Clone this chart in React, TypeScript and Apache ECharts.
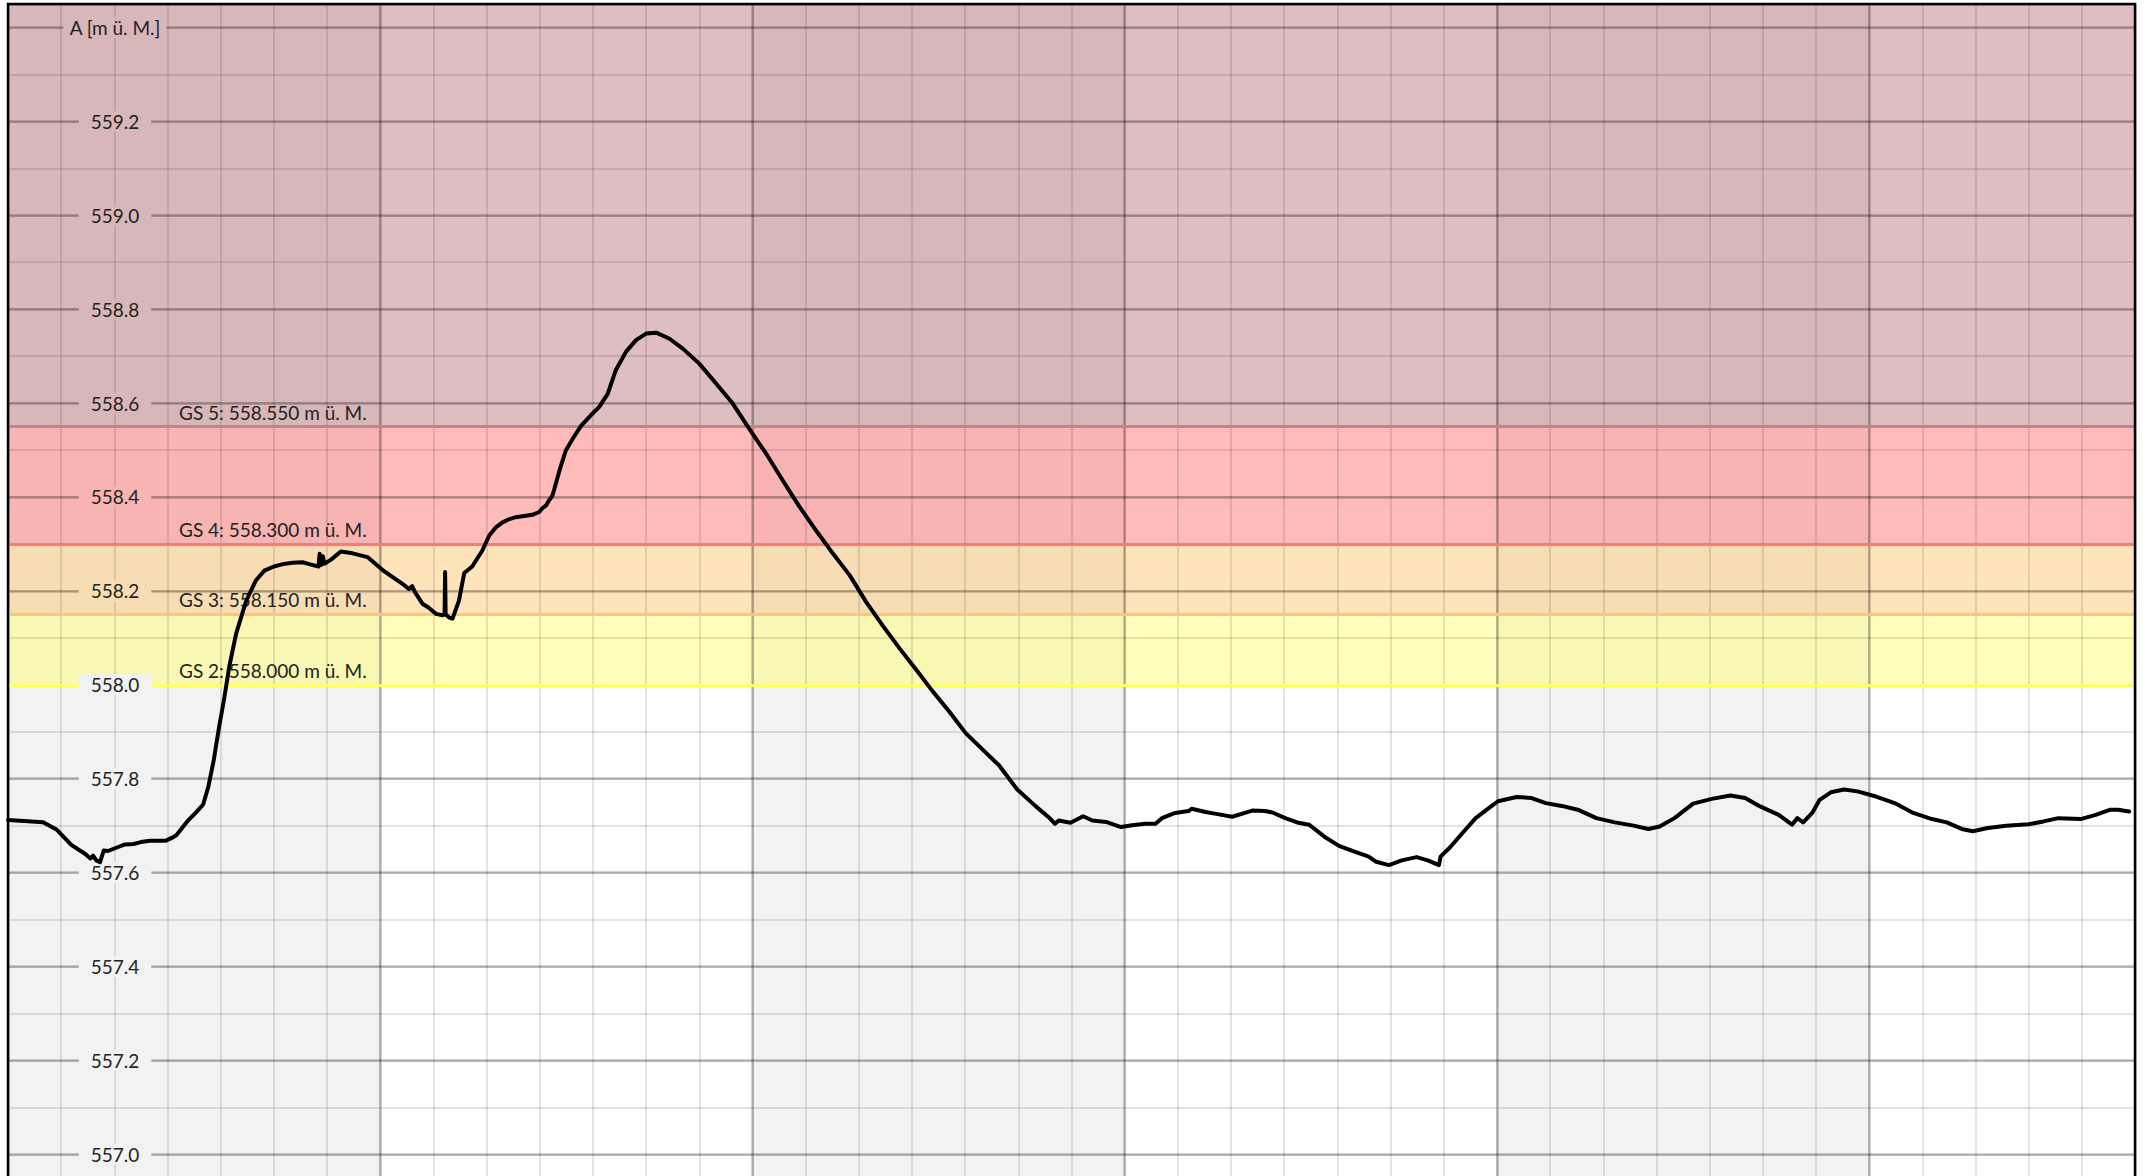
import React, { useEffect, useRef } from "react";
import * as echarts from "echarts";

// time axis in days (0..40), water level in m ü. M.
const days = [
  0.0, 0.3, 0.66, 0.92, 1.19, 1.46, 1.55, 1.6, 1.66, 1.73, 1.8, 1.88, 2.06, 2.2, 2.36, 2.5, 2.67, 2.97, 3.1, 3.17,
  3.37, 3.55, 3.67, 3.77, 3.87, 3.97, 4.07, 4.16, 4.29, 4.48, 4.66, 4.82, 5.0, 5.17, 5.35, 5.54, 5.7, 5.84, 5.86, 5.89,
  5.92, 5.95, 6.07, 6.26, 6.48, 6.76, 7.04, 7.2, 7.42, 7.54, 7.6, 7.65, 7.8, 7.9, 8.05, 8.17, 8.21, 8.22, 8.23, 8.3,
  8.36, 8.48, 8.58, 8.73, 8.92, 9.05, 9.18, 9.3, 9.43, 9.55, 9.74, 9.86, 9.99, 10.05, 10.12, 10.17, 10.24, 10.37, 10.49, 10.62,
  10.78, 10.96, 11.12, 11.28, 11.43, 11.62, 11.81, 12.0, 12.19, 12.44, 12.69, 13.0, 13.32, 13.63, 13.94, 14.26, 14.57, 14.88, 15.2, 15.51,
  15.83, 16.14, 16.45, 16.77, 17.08, 17.39, 17.7, 18.01, 18.33, 18.64, 18.98, 19.33, 19.57, 19.69, 19.76, 19.98, 20.22, 20.39, 20.65, 20.93,
  21.14, 21.39, 21.58, 21.7, 21.95, 22.2, 22.26, 22.52, 22.72, 23.02, 23.4, 23.64, 23.78, 24.02, 24.27, 24.47, 24.75, 25.03, 25.31, 25.59,
  25.73, 25.97, 26.21, 26.49, 26.7, 26.91, 26.94, 27.12, 27.32, 27.6, 27.81, 28.02, 28.37, 28.64, 28.92, 29.22, 29.52, 29.87, 30.22, 30.57,
  30.85, 31.06, 31.34, 31.69, 32.04, 32.39, 32.67, 32.95, 33.3, 33.55, 33.65, 33.76, 33.93, 34.07, 34.28, 34.53, 34.78, 35.13, 35.48, 35.83,
  36.18, 36.46, 36.74, 36.95, 37.23, 37.58, 38.0, 38.28, 38.56, 38.98, 39.26, 39.54, 39.68, 39.89,
];
const levels = [
  557.712, 557.71, 557.707, 557.691, 557.659, 557.639, 557.63, 557.636, 557.626, 557.622, 557.647, 557.646, 557.654, 557.66, 557.661, 557.665, 557.668, 557.668, 557.675, 557.68,
  557.709, 557.73, 557.745, 557.784, 557.84, 557.91, 557.974, 558.038, 558.109, 558.179, 558.222, 558.243, 558.252, 558.257, 558.26, 558.261, 558.256, 558.252, 558.279, 558.255,
  558.274, 558.258, 558.266, 558.284, 558.28, 558.272, 558.245, 558.232, 558.215, 558.204, 558.21, 558.198, 558.172, 558.165, 558.151, 558.148, 558.15, 558.24, 558.15, 558.143,
  558.141, 558.179, 558.238, 558.252, 558.286, 558.318, 558.336, 558.346, 558.353, 558.357, 558.36, 558.362, 558.368, 558.376, 558.382, 558.392, 558.403, 558.456, 558.499, 558.524,
  558.552, 558.574, 558.592, 558.62, 558.67, 558.709, 558.734, 558.748, 558.75, 558.737, 558.716, 558.684, 558.641, 558.599, 558.545, 558.492, 558.435, 558.38, 558.328, 558.28,
  558.233, 558.176, 558.126, 558.077, 558.032, 557.986, 557.943, 557.897, 557.862, 557.828, 557.777, 557.741, 557.718, 557.704, 557.711, 557.706, 557.72, 557.711, 557.708, 557.697,
  557.701, 557.704, 557.704, 557.716, 557.727, 557.731, 557.736, 557.729, 557.725, 557.719, 557.732, 557.731, 557.728, 557.716, 557.706, 557.702, 557.677, 557.657, 557.645, 557.634,
  557.623, 557.616, 557.626, 557.633, 557.626, 557.616, 557.634, 557.654, 557.68, 557.716, 557.734, 557.752, 557.761, 557.759, 557.748, 557.742, 557.734, 557.716, 557.707, 557.7,
  557.693, 557.698, 557.716, 557.747, 557.757, 557.764, 557.759, 557.741, 557.723, 557.702, 557.716, 557.707, 557.727, 557.755, 557.771, 557.777, 557.773, 557.762, 557.748, 557.727,
  557.714, 557.707, 557.693, 557.688, 557.695, 557.7, 557.703, 557.709, 557.716, 557.714, 557.723, 557.734, 557.734, 557.73,
];

// warning thresholds (Gefahrenstufen)
const thresholdNames = ["GS 2", "GS 3", "GS 4", "GS 5"];
const thresholdValues = [558.0, 558.15, 558.3, 558.55];
const unitText = "m ü. M.";
const axisTitle = "A [m ü. M.]";
const titleTick = 559.4;

// axis ranges
const xMin = 0;
const xMax = 40;
const weekLength = 7;
const shadedWeekStarts = [0, 14, 28];
const yMin = 556.8;
const yMax = 559.45;

// styles: zone colours as [r, g, b] drawn with zoneAlpha over the week bands
const zoneRgb = [
  [255, 255, 104],
  [255, 193, 102],
  [255, 102, 102],
  [184, 111, 117],
];
const zoneAlpha = 0.45;
const lineColors = ["#ffff6a", "#ffc474", "#ff7878", "#c0848a"];
const bandGray = 242;
const FONT = "Lato";

function over(rgb: number[], base: number) {
  const c = rgb.map((v) => Math.round(zoneAlpha * v + (1 - zoneAlpha) * base));
  return `rgb(${c[0]},${c[1]},${c[2]})`;
}

function zoneIndex(v: number) {
  let idx = -1;
  for (let i = 0; i < thresholdValues.length; i++) {
    if (v > thresholdValues[i] + 1e-9) idx = i;
  }
  return idx;
}

export default function App() {
  const ref = useRef<HTMLDivElement>(null);

  useEffect(() => {
    if (!ref.current) return;
    const chart = echarts.init(ref.current, undefined, { renderer: "svg" });

    const labelStyle = (bg: string, pad: number[]) => ({
      backgroundColor: bg,
      padding: pad,
      fontFamily: FONT,
      fontSize: 19,
      color: "#222",
      lineHeight: 20,
    });
    const grayBg = `rgb(${bandGray},${bandGray},${bandGray})`;
    const rich: Record<string, any> = {
      w: labelStyle(grayBg, [1, 12]),
      t: labelStyle(over(zoneRgb[3], bandGray), [1, 6]),
    };
    zoneRgb.forEach((c, i) => {
      rich["z" + i] = labelStyle(over(c, bandGray), [1, 12]);
    });

    const zoneAreas = thresholdValues.map((lo, i) => [
      {
        yAxis: lo,
        itemStyle: { color: `rgba(${zoneRgb[i][0]},${zoneRgb[i][1]},${zoneRgb[i][2]},${zoneAlpha})` },
      },
      { yAxis: i + 1 < thresholdValues.length ? thresholdValues[i + 1] : yMax },
    ]);
    const bandAreas = shadedWeekStarts.map((s) => [{ xAxis: s }, { xAxis: s + weekLength }]);

    const hiddenAxisParts = {
      axisLine: { show: false },
      axisTick: { show: false },
      axisLabel: { show: false },
    };

    const option: any = {
      animation: false,
      grid: {
        left: 8,
        right: 9,
        top: 4,
        bottom: 11.8,
        show: true,
        backgroundColor: "transparent",
        borderColor: "#000",
        borderWidth: 2.5,
        z: 10,
      },
      xAxis: [
        {
          type: "value",
          min: xMin,
          max: xMax,
          interval: 1,
          z: 3,
          ...hiddenAxisParts,
          splitLine: { show: true, lineStyle: { color: "rgba(0,0,0,0.14)", width: 1.5 } },
        },
        {
          type: "value",
          min: xMin,
          max: xMax,
          interval: weekLength,
          z: 3,
          ...hiddenAxisParts,
          splitLine: { show: true, lineStyle: { color: "rgba(0,0,0,0.24)", width: 2.5 } },
        },
      ],
      yAxis: [
        {
          type: "value",
          position: "right",
          min: yMin,
          max: yMax,
          interval: 0.1,
          z: 4,
          ...hiddenAxisParts,
          splitLine: { show: true, lineStyle: { color: "rgba(0,0,0,0.14)", width: 1.5 } },
        },
        {
          type: "value",
          position: "left",
          min: yMin,
          max: yMax,
          interval: 0.2,
          z: 4,
          ...hiddenAxisParts,
          splitLine: { show: true, lineStyle: { color: "rgba(0,0,0,0.24)", width: 2.5 } },
        },
        {
          type: "value",
          position: "left",
          min: yMin,
          max: yMax,
          interval: 0.2,
          z: 6,
          axisLine: { show: false },
          axisTick: { show: false },
          splitLine: { show: false },
          axisLabel: {
            show: true,
            inside: true,
            margin: 107,
            align: "center",
            verticalAlign: "middle",
            rich,
            formatter: (v: number) => {
              if (Math.abs(v * 5 - Math.round(v * 5)) > 1e-6) return "";
              if (Math.abs(v - titleTick) < 1e-6) return `{t|${axisTitle}}`;
              const zi = zoneIndex(v);
              const key = zi < 0 ? "w" : "z" + zi;
              return `{${key}|${v.toFixed(1)}}`;
            },
          },
        },
      ],
      series: [
        {
          type: "line",
          name: "bands",
          data: [],
          z: 1,
          silent: true,
          markArea: {
            silent: true,
            label: { show: false },
            itemStyle: { color: `rgba(0,0,0,${(255 - bandGray) / 255})` },
            data: bandAreas,
          },
        },
        {
          type: "line",
          name: "zones",
          data: [],
          z: 2,
          silent: true,
          markArea: { silent: true, label: { show: false }, data: zoneAreas },
        },
        {
          type: "line",
          name: "thresholds",
          data: [],
          z: 5,
          silent: true,
          markLine: {
            silent: true,
            symbol: ["none", "none"],
            label: {
              show: true,
              position: "insideStartTop",
              distance: [171, 5],
              fontFamily: FONT,
              fontSize: 19,
              color: "#222",
            },
            data: thresholdValues.map((v, i) => ({
              yAxis: v,
              lineStyle: { color: lineColors[i], width: 3, type: "solid" },
              label: { formatter: `${thresholdNames[i]}: ${v.toFixed(3)} ${unitText}` },
            })),
          },
        },
        {
          type: "line",
          name: "A",
          z: 7,
          showSymbol: false,
          symbol: "none",
          data: days.map((d, i) => [d, levels[i]]),
          lineStyle: { color: "#000", width: 4, join: "round", cap: "round" },
        },
      ],
    };

    chart.setOption(option);
    return () => chart.dispose();
  }, []);

  return (
    <div
      ref={ref}
      style={{ position: "fixed", left: 0, top: 0, width: 2144, height: 1260, background: "#fff" }}
    />
  );
}
